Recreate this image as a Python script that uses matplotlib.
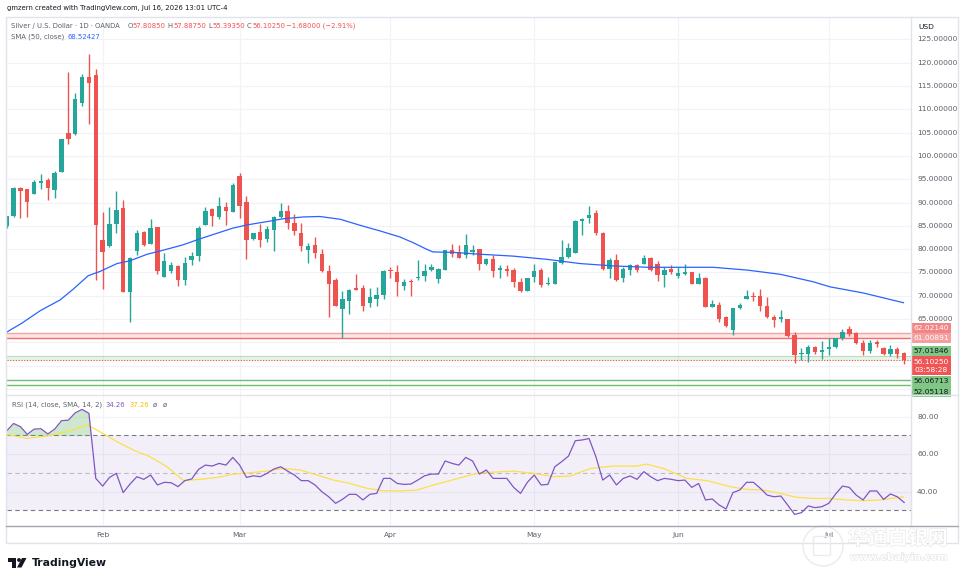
"""Silver / USD daily (OANDA) TradingView snapshot: candles + SMA50, RSI(14) pane."""
import matplotlib

matplotlib.use("Agg")
import matplotlib.pyplot as plt  # noqa: E402
import matplotlib.patheffects as pe  # noqa: E402
from matplotlib.patches import Rectangle, Polygon, Circle, FancyBboxPatch  # noqa: E402
import numpy as np  # noqa: E402
import pandas as pd  # noqa: E402

W, H = 964, 582
UP, DOWN = "#26a69a", "#ef5350"
GRID = "#f2f3f7"
TXT = "#131722"
MUTED = "#5d606b"

# daily bars shown (no bar on Good Friday)
dates = pd.bdate_range("2026-01-13", "2026-07-16").drop(pd.Timestamp("2026-04-03"))

opens = [85.0, 87.1, 93.1, 92.8, 91.9, 94.1, 94.8, 92.6, 96.6, 104.9,
         104.7, 111.4, 116.9, 117.3, 81.9, 80.6, 85.4, 88.8, 70.9, 79.5,
         83.6, 81.1, 84.7, 74.1, 75.4, 76.4, 73.3, 77.6, 78.6, 85.2,
         88.6, 86.8, 89.1, 87.9, 95.6, 90.1, 82.1, 83.7, 82.2, 84.0,
         86.8, 88.2, 85.6, 83.4, 79.9, 80.9, 79.0, 75.4, 73.4, 67.1,
         68.9, 71.6, 71.6, 68.4, 69.3, 70.1, 75.5, 75.0, 72.0, 73.2,
         73.8, 74.3, 75.6, 73.6, 75.6, 79.8, 79.4, 78.8, 79.4, 80.0,
         76.7, 77.9, 75.5, 75.7, 75.6, 72.9, 71.1, 74.1, 75.6, 72.5,
         72.6, 77.1, 78.4, 79.2, 86.1, 86.7, 87.8, 83.5, 75.8, 77.6,
         73.7, 75.5, 76.6, 76.9, 78.1, 76.9, 74.4, 75.7, 74.3, 74.6,
         75.1, 72.5, 73.9, 67.6, 68.0, 65.4, 62.6, 67.3, 69.2, 70.0,
         69.9, 67.8, 65.5, 64.9, 64.9, 61.6, 57.4, 57.6, 59.1, 58.0,
         58.6, 59.1, 60.9, 62.8, 62.1, 59.8, 58.2, 60.0, 58.7, 57.5,
         58.5, 57.8085]
highs = [87.2, 93.4, 93.3, 93.0, 94.9, 96.1, 95.2, 96.8, 103.7, 118.0,
         113.6, 117.5, 121.8, 118.6, 88.0, 89.1, 92.4, 90.5, 78.4, 84.1,
         83.8, 86.4, 84.7, 79.1, 77.2, 76.6, 78.4, 79.4, 84.9, 89.0,
         88.9, 91.1, 90.2, 94.1, 96.4, 91.3, 83.5, 85.4, 84.9, 87.1,
         89.9, 89.4, 87.5, 85.6, 81.3, 82.7, 80.0, 76.5, 73.7, 71.1,
         71.4, 74.6, 72.3, 71.6, 71.9, 75.5, 76.2, 76.6, 73.6, 73.6,
         77.6, 76.8, 76.8, 75.9, 79.8, 81.1, 80.9, 83.2, 80.9, 80.1,
         78.0, 78.7, 76.6, 76.6, 75.9, 73.9, 73.9, 76.9, 75.9, 74.1,
         77.3, 81.9, 81.4, 86.2, 86.6, 89.3, 88.4, 83.7, 78.1, 78.9,
         76.2, 76.9, 76.8, 78.7, 78.4, 77.4, 76.2, 76.6, 76.2, 76.9,
         75.1, 74.9, 74.1, 69.1, 68.7, 65.7, 67.4, 68.4, 71.2, 70.9,
         71.4, 69.8, 65.9, 66.9, 64.9, 62.3, 58.7, 59.4, 59.2, 60.3,
         60.9, 61.0, 62.9, 63.4, 62.3, 60.6, 60.5, 60.6, 59.1, 59.4,
         59.1, 57.8875]
lows = [84.6, 86.9, 86.6, 86.9, 91.8, 92.9, 90.6, 91.0, 96.5, 102.6,
        104.5, 110.7, 106.9, 73.4, 71.4, 80.4, 83.5, 70.7, 64.3, 78.8,
        80.7, 81.0, 74.6, 74.0, 74.9, 72.0, 72.2, 76.5, 77.4, 85.2,
        84.9, 86.5, 85.2, 87.9, 86.6, 77.9, 81.9, 80.4, 81.6, 79.6,
        86.6, 84.4, 83.1, 79.5, 77.0, 78.2, 75.1, 65.5, 67.9, 61.0,
        66.1, 71.2, 66.8, 67.5, 67.9, 69.3, 73.9, 69.9, 71.3, 70.0,
        73.4, 73.1, 75.4, 72.7, 75.6, 78.4, 78.0, 78.1, 78.8, 75.6,
        76.6, 74.1, 73.9, 74.2, 71.9, 70.9, 71.0, 72.9, 71.9, 72.3,
        72.6, 76.9, 78.2, 79.1, 83.0, 85.6, 83.1, 75.5, 73.9, 73.1,
        73.0, 74.4, 75.0, 76.8, 75.4, 73.2, 71.8, 74.6, 73.7, 74.4,
        72.5, 72.5, 67.5, 67.5, 64.3, 63.2, 61.6, 67.1, 69.2, 68.9,
        66.7, 65.3, 63.2, 64.3, 61.2, 55.5, 56.2, 55.7, 57.5, 56.4,
        57.3, 58.7, 60.6, 61.4, 59.6, 57.3, 57.8, 59.1, 57.3, 57.1,
        56.6, 55.3935]
closes = [87.0, 93.2, 92.5, 90.1, 94.4, 94.7, 93.1, 96.3, 103.6, 103.7,
          112.1, 117.0, 115.6, 85.2, 79.4, 85.4, 88.4, 70.9, 78.1, 83.4,
          80.9, 84.5, 75.4, 77.4, 76.6, 73.4, 77.0, 78.6, 84.6, 88.2,
          87.1, 89.3, 88.2, 93.8, 89.3, 81.9, 83.5, 82.0, 84.4, 86.9,
          88.2, 85.7, 83.8, 80.6, 80.7, 79.1, 75.2, 72.6, 67.9, 69.3,
          71.2, 71.3, 67.9, 69.8, 70.1, 75.4, 75.2, 73.0, 72.9, 73.0,
          74.1, 75.4, 76.1, 75.7, 79.8, 78.9, 78.2, 80.9, 79.9, 76.8,
          77.8, 75.4, 75.9, 75.4, 72.9, 71.1, 73.7, 75.3, 72.3, 72.8,
          77.3, 78.4, 80.3, 86.1, 86.4, 87.4, 83.4, 75.7, 77.6, 73.4,
          75.8, 76.6, 75.5, 78.2, 75.5, 74.4, 75.6, 75.1, 74.8, 75.1,
          72.5, 73.9, 67.6, 68.2, 65.1, 63.4, 67.3, 68.1, 69.9, 69.8,
          67.8, 65.5, 64.8, 65.5, 61.4, 57.3, 57.8, 59.1, 58.0, 58.4,
          58.9, 60.9, 62.3, 61.8, 59.8, 58.1, 59.8, 59.6, 57.4, 58.5,
          57.5, 56.1025]

# SMA(50, close) at these bar positions
sma_x = [0, 2.2, 4.9, 7.8, 9.7, 11.9, 13.6, 16.1, 18.0, 20.5, 22.4, 25.7, 28.2, 30.7,
         33.0, 35.1, 38.0, 40.3, 43.3, 45.7, 48.7, 51.6, 54.5, 57.4, 59.3, 61.4, 62.2,
         65.2, 69.1, 73.9, 78.9, 83.7, 88.5, 93.5, 98.3, 103.1, 108.1, 112.9, 117.7,
         120.2, 125.0, 130.9]
sma_y = [62.2, 64.1, 66.8, 69.1, 71.4, 74.3, 75.2, 76.9, 77.5, 78.9, 79.6, 80.9, 82.2, 83.4,
         84.5, 85.2, 85.9, 86.5, 86.9, 87.0, 86.4, 85.1, 83.9, 82.6, 81.4, 79.9, 79.4,
         79.3, 78.9, 78.5, 77.8, 76.9, 76.4, 76.1, 76.1, 76.1, 75.5, 74.6, 73.0,
         71.9, 70.6, 68.5]

rsi = [72.5, 76.4, 74.7, 70.6, 73.4, 73.6, 70.8, 73.4, 77.9, 78.2,
       82.1, 83.9, 81.8, 47.1, 43.0, 47.6, 49.8, 39.5, 44.1, 48.0,
       46.6, 48.9, 43.6, 45.0, 44.8, 42.7, 45.9, 46.8, 51.9, 54.2,
       53.7, 55.1, 54.2, 58.3, 54.2, 47.6, 48.5, 48.0, 49.8, 52.1,
       53.3, 51.0, 48.9, 45.9, 45.9, 43.6, 40.0, 37.3, 33.8, 35.9,
       38.6, 38.6, 35.6, 38.6, 39.1, 47.1, 47.1, 44.4, 43.9, 44.1,
       46.2, 48.5, 49.4, 49.4, 56.4, 55.1, 54.2, 58.3, 56.4, 49.4,
       51.6, 47.1, 47.1, 47.1, 42.3, 39.1, 45.0, 48.9, 43.6, 43.9,
       53.3, 56.0, 59.0, 67.2, 67.6, 68.4, 58.7, 46.2, 48.9, 43.6,
       47.1, 48.4, 46.6, 50.7, 48.0, 45.9, 47.1, 46.6, 45.9, 46.2,
       42.3, 44.4, 35.6, 36.1, 32.9, 30.8, 39.5, 40.9, 45.0, 45.0,
       41.8, 38.2, 37.3, 37.7, 32.9, 27.9, 28.8, 32.4, 31.5, 32.0,
       33.8, 38.8, 43.0, 42.3, 38.2, 35.6, 40.4, 40.4, 35.9, 38.8,
       37.3, 34.26]
rsi_sma_x = [0, 2.9, 5.8, 8.8, 11.8, 13.6, 16.1, 18.5, 20.9, 23.4, 25.8, 28.2, 30.7,
             33.1, 35.5, 38.0, 40.4, 42.8, 45.3, 47.7, 50.1, 52.6, 55.0, 57.4, 59.9,
             62.3, 64.7, 67.2, 69.1, 74.0, 76.9, 79.8, 82.3, 85.2, 88.6, 92.0, 93.4,
             95.9, 99.3, 102.2, 105.6, 108.0, 110.4, 112.9, 115.3, 117.8, 120.2, 122.6,
             125.1, 127.5, 130.9]
rsi_sma_y = [70.6, 68.4, 69.7, 72.0, 75.6, 72.0, 66.7, 62.2, 58.7, 53.3, 45.9, 46.6, 47.6,
             49.4, 50.1, 51.0, 52.4, 51.6, 48.9, 46.2, 44.4, 41.8, 40.5, 40.4, 40.9,
             43.6, 45.9, 48.4, 50.1, 51.0, 49.8, 48.0, 48.4, 52.4, 53.7, 53.7, 54.7,
             52.4, 47.1, 45.9, 42.7, 41.2, 40.9, 39.1, 37.0, 36.4, 36.4, 35.6,
             35.2, 35.6, 37.26]

price_ticks = list(range(65, 130, 5))
price_grid = list(range(50, 130, 5))
rsi_ticks = [40, 60, 80]
month_names = ["Feb", "Mar", "Apr", "May", "Jun", "Jul"]
zone_red = (61.00891, 62.02140)
zone_green = (56.06713, 57.01846)
green_lines = [51.95, 50.9]
last_close = closes[-1]
sma_last = 68.52427
rsi_last, rsi_sma_last = 34.26, 37.26
countdown = "03:58:28"


fig = plt.figure(figsize=(W / 100, H / 100), dpi=100)
fig.patch.set_facecolor("white")
renderer = fig.canvas.get_renderer()


def px_box(l, t, r, b):
    return [l / W, 1 - b / H, (r - l) / W, (b - t) / H]


ax = fig.add_axes(px_box(7, 17, 911, 395))
rx = fig.add_axes(px_box(7, 395, 911, 526), sharex=ax)
ov = fig.add_axes([0, 0, 1, 1], zorder=5)
ov.set_xlim(0, W)
ov.set_ylim(H, 0)
ov.axis("off")
ov.patch.set_alpha(0)

for a in (ax, rx):
    a.tick_params(left=False, bottom=False, labelleft=False, labelbottom=False)
    for s in a.spines.values():
        s.set_visible(False)

x = np.arange(len(dates))
o, h, l, c = map(np.array, (opens, highs, lows, closes))
col = np.where(c >= o, UP, DOWN)
month_pos = [int(np.argmax((dates.month == m) & (dates.year == 2026))) for m in range(2, 8)]

# --- price pane
for p in price_grid:
    ax.axhline(p, color=GRID, lw=0.9, zorder=0)
for m in month_pos:
    ax.axvline(m, color=GRID, lw=0.9, zorder=0)
    rx.axvline(m, color=GRID, lw=0.9, zorder=0)

ax.axhspan(*zone_red, color="#f23645", alpha=0.13, lw=0, zorder=1)
ax.axhline(zone_red[1], color="#f5a3a3", lw=1, zorder=1)
ax.axhline(zone_red[0], color="#f07070", lw=1, zorder=1)
ax.axhspan(*zone_green, color="#4caf50", alpha=0.13, lw=0, zorder=1)
ax.axhline(zone_green[1], color="#b9dfba", lw=0.8, zorder=1)
for g in green_lines:
    ax.axhline(g, color="#6cc070", lw=1, zorder=1)
ax.axhline(last_close, color=DOWN, lw=0.8, ls=(0, (1, 1.5)), zorder=2)

ax.vlines(x, l, h, colors=col, lw=1, zorder=3)
ax.bar(x, np.maximum(np.abs(c - o), 0.22), bottom=np.minimum(o, c), width=0.64,
       color=col, lw=0, zorder=4)
ax.plot(sma_x, sma_y, color="#2962ff", lw=0.9, zorder=5)
ax.set_xlim(0.04, 132.0)
ax.set_ylim(48.7, 129.8)

# --- RSI pane
rsi = np.array(rsi)
for v in rsi_ticks:
    rx.axhline(v, color=GRID, lw=0.9, zorder=0)
rx.axhspan(30, 70, color="#7e57c2", alpha=0.09, lw=0, zorder=1)
for lvl, a in ((70, 1.0), (50, 0.45), (30, 1.0)):
    rx.axhline(lvl, color="#787b86", lw=0.8, ls=(0, (4, 3)), alpha=a, zorder=2)
rx.fill_between(x, 70, rsi, where=rsi > 70, interpolate=True, color="#4caf50",
                alpha=0.28, lw=0, zorder=2)
rx.plot(x, rsi, color="#7e57c2", lw=0.9, zorder=4)
rx.plot(rsi_sma_x, rsi_sma_y, color="#fbe04a", lw=0.9, zorder=3)
rx.set_ylim(21.7, 91.6)


def fit(t, width):
    w = t.get_window_extent(renderer).width
    t.set_fontsize(t.get_fontsize() * width / w)
    return t.get_fontsize()


# axis labels
probe = ax.text(1 + 6 / 904, price_ticks[-1], f"{price_ticks[-1]:.5f}",
                transform=ax.get_yaxis_transform(), color=MUTED, va="center", fontsize=6)
fs_axis = fit(probe, 40)
for p in price_ticks[:-1]:
    ax.text(1 + 6 / 904, p, f"{p:.5f}", transform=ax.get_yaxis_transform(),
            color=MUTED, va="center", fontsize=fs_axis)
for v in rsi_ticks:
    rx.text(1 + 6 / 904, v, f"{v:.2f}", transform=rx.get_yaxis_transform(),
            color=MUTED, va="center", fontsize=fs_axis)
for m, name in zip(month_pos, month_names):
    rx.text(m, -9 / 131, name, transform=rx.get_xaxis_transform(), ha="center",
            va="center", color=MUTED, fontsize=fs_axis)
ov.text(918, 27, "USD", color=TXT, va="center", fontsize=fs_axis)

# frame and pane separators
ov.add_patch(Rectangle((6, 17), 952, 526, fill=False, ec="#e0e3eb", lw=1))
ov.plot([911, 911], [17, 526], color="#e0e3eb", lw=1)
ov.plot([6, 958], [395, 395], color="#e0e3eb", lw=1)
ov.plot([6, 958], [526, 526], color="#a3a6af", lw=1)

# price-axis tags (stacked to avoid overlap)
tags = [
    (f"{zone_red[1]:.5f}", 322.7, 333.0, "#f48585", "white"),
    (f"{zone_red[0]:.5f}", 333.0, 343.3, "#f59e9e", "white"),
    (f"{zone_green[1]:.5f}", 345.7, 356.0, "#81c784", TXT),
    (f"{last_close:.5f}\n{countdown}", 356.0, 375.3, "#f05454", "white"),
    (f"{zone_green[0]:.5f}", 376.0, 386.0, "#81c784", TXT),
    ("52.05118", 386.0, 396.7, "#81c784", TXT),
]
for s, top, bot, bg, fg in tags:
    ov.add_patch(Rectangle((911, top), 40, bot - top, color=bg, lw=0))
    ov.text(931, (top + bot) / 2 + 0.3, s, ha="center", va="center", color=fg,
            fontsize=fs_axis, linespacing=1.25)

# header + legends
hdr = ov.text(7, 8, "gmzern created with TradingView.com, Jul 16, 2026 13:01 UTC-4",
              color=TXT, va="center", fontsize=6)
fit(hdr, 221)
lg = ov.text(11, 26, "Silver / U.S. Dollar · 1D · OANDA", color=MUTED, va="center", fontsize=6)
fs_leg = fit(lg, 111)
pieces = [("O", 127.7, MUTED), ("57.80850", 132.7, DOWN), ("H", 167.7, MUTED),
          ("57.88750", 173, DOWN), ("L", 208, MUTED), ("55.39350", 212, DOWN),
          ("C", 247, MUTED), ("56.10250", 252, DOWN), ("−1.68000 (−2.91%)", 286.5, DOWN)]
for s, px, cl in pieces:
    ov.text(px, 26, s, color=cl, va="center", fontsize=fs_leg)
ov.text(11, 37, "SMA (50, close)", color=MUTED, va="center", fontsize=fs_leg)
ov.text(68, 37, f"{sma_last:.5f}", color="#2962ff", va="center", fontsize=fs_leg)
ov.text(12, 405, "RSI (14, close, SMA, 14, 2)", color=MUTED, va="center", fontsize=fs_leg)
ov.text(105, 405, f"{rsi_last:.2f}", color="#7e57c2", va="center", fontsize=fs_leg)
ov.text(129, 405, f"{rsi_sma_last:.2f}", color="#f2c200", va="center", fontsize=fs_leg)
ov.text(153, 405, "ø", color=MUTED, va="center", fontsize=fs_leg)
ov.text(163, 405, "ø", color=MUTED, va="center", fontsize=fs_leg)

# TradingView logo
ov.add_patch(Polygon([(7.5, 558), (16, 558), (16, 567.5), (11.8, 567.5), (11.8, 562), (7.5, 562)],
                     closed=True, color=TXT, lw=0))
ov.add_patch(Circle((19.0, 560.0), 1.9, color=TXT, lw=0))
ov.add_patch(Polygon([(22, 558), (26.5, 558), (21.5, 567.5), (17, 567.5)], closed=True,
                     color=TXT, lw=0))
tv = ov.text(31.5, 563, "TradingView", color=TXT, va="center", fontweight="bold", fontsize=8)
fit(tv, 75)

# faint watermark (bottom right)
halo = [pe.withStroke(linewidth=0.8, foreground="#e4e4e4")]
ov.add_patch(Circle((823, 546), 20, fill=False, ec="#ebebeb", lw=1.0))
ov.add_patch(FancyBboxPatch((815, 538), 14, 16, boxstyle="round,pad=1.5", fill=False,
                            ec="#ebebeb", lw=1.0))
wm = ov.text(848, 538, "华通白银网", family=["Noto Sans CJK SC", "DejaVu Sans"], color="white",
             va="center", fontsize=14, fontweight="bold", path_effects=halo)
fit(wm, 100)
wu = ov.text(850, 557, "www.ebaiyin.com", color="white", va="center", fontsize=7,
             fontweight="bold", path_effects=halo)
fit(wu, 98)

fig.savefig("out.png", dpi=100, facecolor="white")
